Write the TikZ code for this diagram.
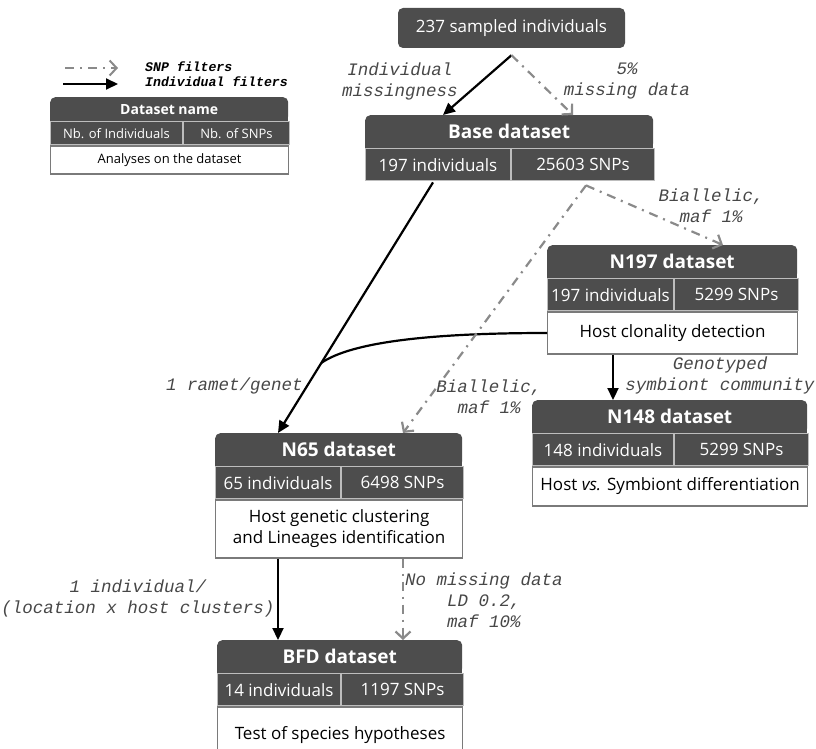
\documentclass[tikz,border=0pt]{standalone}
\usepackage{fontspec}
\setmainfont{Open Sans}
\newfontfamily\filtfont{Liberation Mono}
\usetikzlibrary{arrows.meta,positioning}

\definecolor{boxgray}{HTML}{4D4D4D}
\definecolor{sepgray}{HTML}{BDBDBD}
\definecolor{anagray}{HTML}{7A7A7A}
\definecolor{snpgray}{HTML}{8A8A8A}
\definecolor{labgray}{HTML}{474747}

\tikzset{
  hdr/.style={fill=boxgray, text=white, font=\bfseries\fontsize{19}{22}\selectfont,
    rounded corners=5pt, minimum height=33, inner sep=0pt, anchor=north west},
  cell/.style={fill=boxgray, draw=sepgray, line width=1pt, text=white,
    font=\fontsize{17}{20}\selectfont, minimum height=32, inner sep=0pt, anchor=north west},
  ana/.style={fill=white, draw=anagray, line width=1.2pt, align=center,
    font=\fontsize{17}{21}\selectfont, inner sep=0pt, anchor=north west},
  indiv/.style={line width=2.2pt, -{Triangle[length=12pt,width=11pt]}},
  snp/.style={draw=snpgray, line width=2.2pt, dash pattern=on 9pt off 6pt on 2pt off 6pt,
    -{Straight Barb[length=7pt,width=15pt]}},
  filt/.style={font=\filtfont\itshape\fontsize{17.5}{21}\selectfont, text=labgray,
    align=center, inner sep=0pt},
}

% header + the two count cells of one dataset
\newcommand{\dataset}[8]{%
  \node[hdr, minimum width=#4] (#1) at (#2,#3) {#6};
  \fill[boxgray] ([yshift=7pt]#1.south west) rectangle (#1.south east);
  \node[cell, minimum width=#5] (#1-ind) at (#1.south west) {#7};
  \node[cell, minimum width=#4-#5] (#1-snp) at (#1-ind.north east) {#8};
}

\begin{document}
\begin{tikzpicture}[x=1pt,y=-1pt]
  \useasboundingbox (0,0) rectangle (816,749);

  % legend
  \coordinate (leg-a1) at (65,68);
  \coordinate (leg-a2) at (118,68);
  \coordinate (leg-b1) at (63,84);
  \coordinate (leg-b2) at (118,84);
  \draw[snp, line width=2pt] (leg-a1) -- (leg-a2);
  \draw[indiv, line width=2pt] (leg-b1) -- (leg-b2);
  \node[filt, anchor=west, font=\filtfont\bfseries\itshape\fontsize{13.2}{15}\selectfont,
    text=black] (leg-snptxt) at (145,67) {SNP filters};
  \node[filt, anchor=west, font=\filtfont\bfseries\itshape\fontsize{13.2}{15}\selectfont,
    text=black] (leg-indtxt) at (145,82) {Individual filters};
  \node[hdr, font=\bfseries\fontsize{14}{16}\selectfont, minimum width=238,
    minimum height=24] (leg) at (50,97) {Dataset name};
  \fill[boxgray] ([yshift=6pt]leg.south west) rectangle (leg.south east);
  \node[cell, font=\fontsize{13}{15}\selectfont, minimum width=132, minimum height=23]
    (leg-ind) at (leg.south west) {Nb. of Individuals};
  \node[cell, font=\fontsize{13}{15}\selectfont, minimum width=106, minimum height=23]
    (leg-snp) at (leg-ind.north east) {Nb. of SNPs};
  \node[ana, font=\fontsize{13}{15}\selectfont, minimum width=238, minimum height=28]
    (leg-ana) at (leg-ind.south west) {Analyses on the dataset};

  % datasets
  \node[fill=boxgray, text=white, rounded corners=5pt, minimum width=227, minimum height=40,
    font=\fontsize{17}{20}\selectfont, inner sep=0pt] (top) at (511.5,28) {237 sampled individuals};
  \dataset{base}{365}{115}{288}{145}{Base dataset}{197 individuals}{25603 SNPs}
  \dataset{n197}{547}{245}{250}{126}{N197 dataset}{197 individuals}{5299 SNPs}
  \node[ana, minimum width=250, minimum height=42] (n197-ana) at (n197-ind.south west)
    {Host clonality detection};
  \dataset{n148}{532}{400}{275}{141}{N148 dataset}{148 individuals}{5299 SNPs}
  \node[ana, minimum width=275, minimum height=39] (n148-ana) at (n148-ind.south west)
    {Host \textit{vs.} Symbiont differentiation};
  \dataset{n65}{215}{433}{247}{125}{N65 dataset}{65 individuals}{6498 SNPs}
  \node[ana, minimum width=247, minimum height=58] (n65-ana) at (n65-ind.south west)
    {Host genetic clustering\\and Lineages identification};
  \dataset{bfd}{217}{640}{245}{123}{BFD dataset}{14 individuals}{1197 SNPs}
  \node[ana, minimum width=245, minimum height=60] (bfd-ana) at (bfd-ind.south west)
    {\raisebox{8pt}{Test of species hypotheses}};

  % filters
  \coordinate (top-out) at ([yshift=-7pt]top.south);
  \draw[indiv] (top-out) -- ([xshift=78pt]base.north west);
  \draw[snp] (top-out) -- ([xshift=208pt]base.north west);
  \node[filt] (lbl-miss) at (400,81) {Individual\\missingness};
  \node[filt] (lbl-5pc) at (627,81) {5\%\\missing data};

  \coordinate (base-out) at ([xshift=68pt,yshift=-1pt]base-ind.south west);
  \draw[indiv] (base-out) -- ([xshift=63pt]n65.north west) coordinate[pos=0.72] (merge);
  \draw[line width=2.2pt] (n197-ana.west) .. controls (430,333) and (352,342) .. (merge);
  \node[filt] (lbl-ramet) at (234.5,386) {1 ramet/genet};

  \coordinate (maf-out) at ([xshift=75pt,yshift=-4pt]base-snp.south west);
  \draw[snp] (maf-out) -- ([xshift=176pt]n197.north west);
  \draw[snp] (maf-out) -- ([xshift=188pt]n65.north west);
  \node[filt] (lbl-maf1) at (711,206) {Biallelic,\\maf 1\%};
  \node[filt] (lbl-maf2) at (489,397) {Biallelic,\\maf 1\%};

  \draw[indiv] ([xshift=66pt]n197-ana.south west) -- ([xshift=66pt]n197-ana.south west |- n148.north);
  \node[filt] (lbl-geno) at (720,375) {Genotyped\\symbiont community};

  \draw[indiv] ([xshift=63pt]n65-ana.south west) -- ([xshift=63pt]n65-ana.south west |- bfd.north);
  \draw[snp] ([xshift=188pt]n65-ana.south west) -- ([xshift=188pt]n65-ana.south west |- bfd.north);
  \node[filt] (lbl-loc) at (138,598) {1 individual/\\(location x host clusters)};
  \node[filt] (lbl-ld) at (484,600) {No missing data\\LD 0.2,\\maf 10\%};
\end{tikzpicture}
\end{document}
